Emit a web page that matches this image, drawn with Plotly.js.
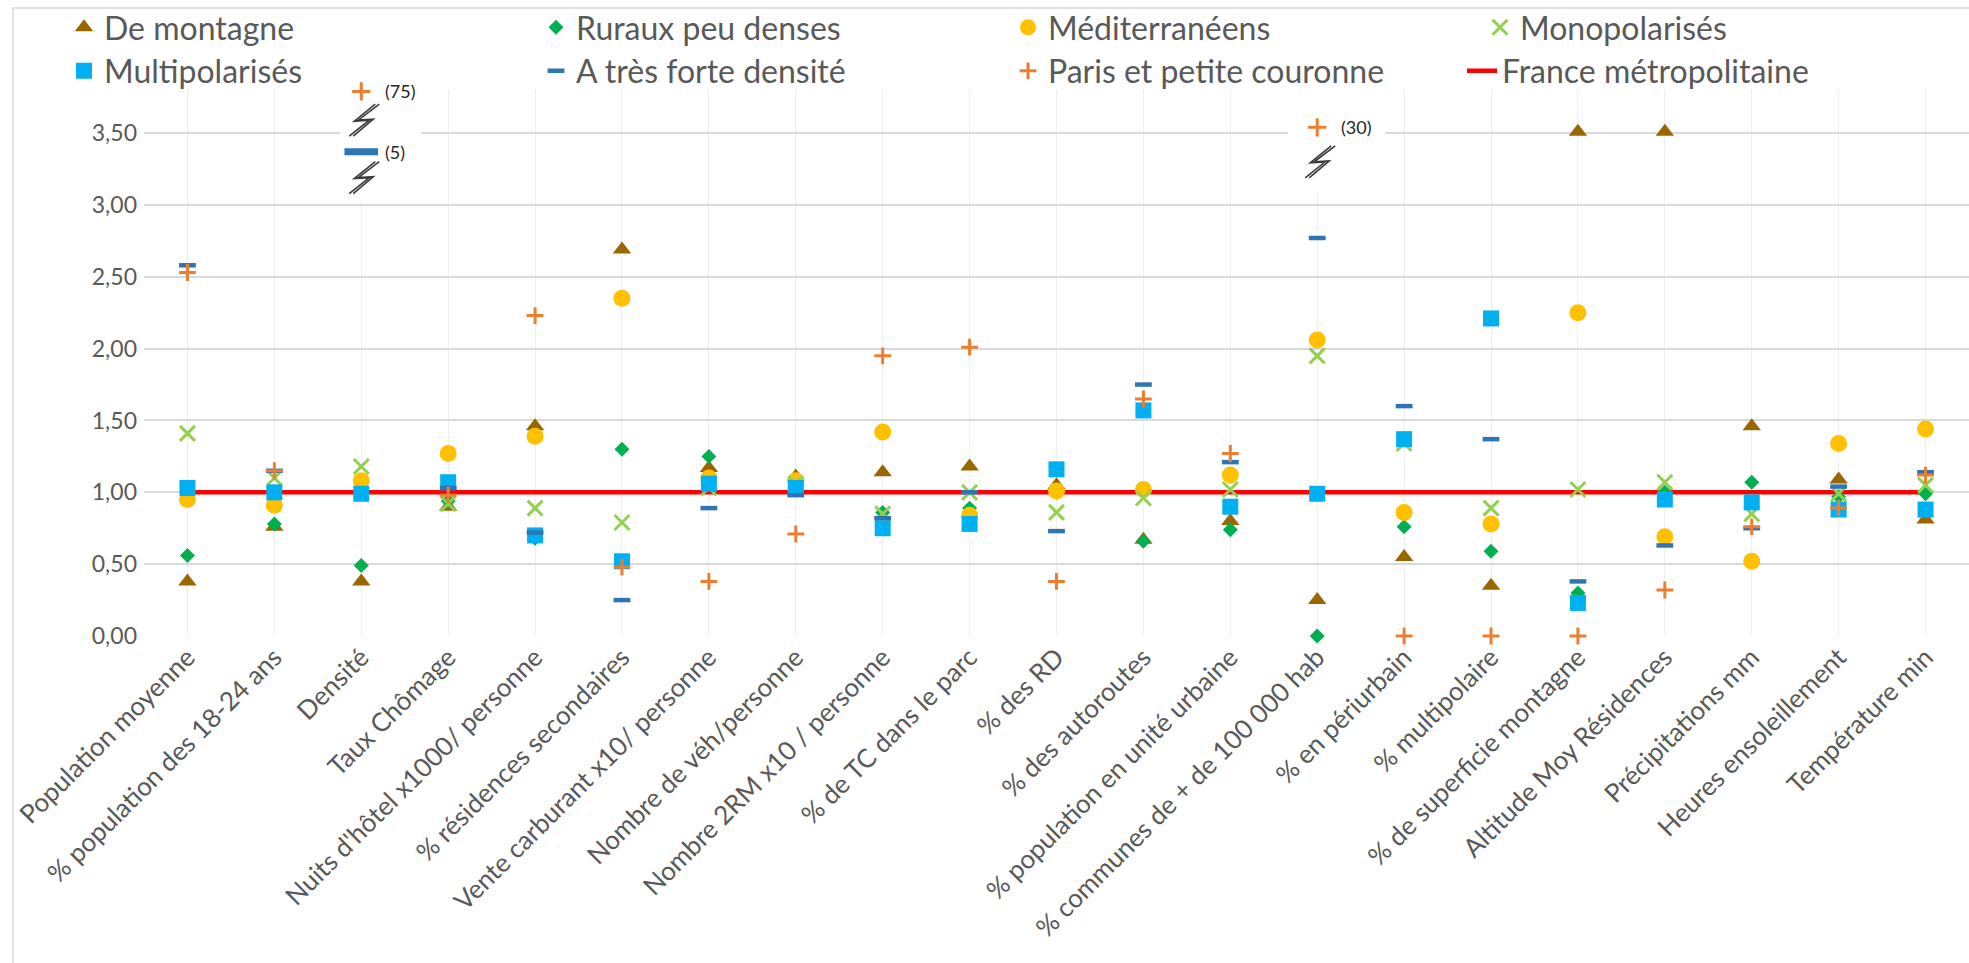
<!DOCTYPE html>
<html><head><meta charset="utf-8">
<script src="https://cdn.plot.ly/plotly-3.0.1.min.js"></script>
<style>html,body{margin:0;padding:0;background:#fff;}#chart{width:1969px;height:963px;}</style>
</head><body><div id="chart"></div>
<script>
// ---------- DATA ----------
const categories = ['Population moyenne', '% population des 18-24 ans', 'Densité', 'Taux Chômage',
  "Nuits d'hôtel x1000/ personne", '% résidences secondaires', 'Vente carburant x10/ personne',
  'Nombre de véh/personne', 'Nombre 2RM x10 / personne', '% de TC dans le parc', '% des RD',
  '% des autoroutes', '% population en unité urbaine', '% communes de + de 100 000 hab',
  '% en périurbain', '% multipolaire', '% de superficie montagne', 'Altitude Moy Résidences',
  'Précipitations mm', 'Heures ensoleillement', 'Température min'];

const deMontagne     = [0.38, 0.76, 0.38, 0.90, 1.46, 2.69, 1.17, 1.11, 1.14, 1.18, 1.05, 0.67, 0.80, 0.25, 0.55, 0.35, 3.51, 3.51, 1.46, 1.09, 0.81];
const rurauxPeuDenses= [0.56, 0.78, 0.49, 0.94, 0.68, 1.30, 1.25, 1.05, 0.86, 0.89, 1.00, 0.66, 0.74, 0.00, 0.76, 0.59, 0.30, 1.00, 1.07, 0.97, 0.99];
const mediterraneens = [0.95, 0.91, 1.08, 1.27, 1.39, 2.35, 1.10, 1.08, 1.42, 0.84, 1.01, 1.02, 1.12, 2.06, 0.86, 0.78, 2.25, 0.69, 0.52, 1.34, 1.44];
const monopolarises  = [1.41, 1.10, 1.18, 0.92, 0.89, 0.79, 1.03, 1.06, 0.85, 1.00, 0.86, 0.96, 1.02, 1.95, 1.34, 0.89, 1.02, 1.07, 0.85, 0.99, 1.05];
const multipolarises = [1.03, 1.00, 0.99, 1.07, 0.70, 0.52, 1.06, 1.03, 0.75, 0.78, 1.16, 1.57, 0.90, 0.99, 1.37, 2.21, 0.23, 0.95, 0.93, 0.88, 0.88];
const tresForteDens  = [2.58, 1.15, 5,    1.03, 0.72, 0.25, 0.89, 0.98, 0.82, 1.00, 0.73, 1.75, 1.21, 2.77, 1.60, 1.37, 0.38, 0.63, 0.75, 1.04, 1.14];
const parisCouronne  = [2.53, 1.15, 75,   0.98, 2.23, 0.48, 0.38, 0.71, 1.95, 2.01, 0.38, 1.65, 1.27, 30,   0.00, 0.00, 0.00, 0.32, 0.76, 0.89, 1.12];
const franceMetro    = [1, 1, 1, 1, 1, 1, 1, 1, 1, 1, 1, 1, 1, 1, 1, 1, 1, 1, 1, 1, 1];

const seriesNames = ['De montagne', 'Ruraux peu denses', 'Méditerranéens', 'Monopolarisés',
  'Multipolarisés', 'A très forte densité', 'Paris et petite couronne', 'France métropolitaine'];

// values beyond the axis, drawn above a break symbol
const outlierCategory = ['Densité', 'Densité', '% communes de + de 100 000 hab'];
const outlierSeries   = ['A très forte densité', 'Paris et petite couronne', 'Paris et petite couronne'];
const outlierValue    = [5, 75, 30];
const outlierShownAt  = [3.37, 3.79, 3.54];
const breakCategory   = ['Densité', 'Densité', '% communes de + de 100 000 hab'];
const breakShownAt    = [3.59, 3.19, 3.30];

// ---------- STYLE ----------
const FONT = 'Lato, "Open Sans", sans-serif';
const GREY = '#595959';
const yMax = 3.8;
const W = 1969, H = 963, ML = 144, MR = 0, MT = 90, MB = 327;
const PW = W - ML - MR, PH = H - MT - MB;
const px2x = p => (p - ML) / PW;
const py2y = p => 1 + (MT - p) / PH;

const styles = {
  'De montagne':            {symbol: 'triangle-up', size: 16, color: '#996600'},
  'Ruraux peu denses':      {symbol: 'diamond', size: 11.5, color: '#00B050'},
  'Méditerranéens':         {symbol: 'circle', size: 17, color: '#FFC000'},
  'Monopolarisés':          {symbol: 'x-thin', size: 15, color: '#92D050', lw: 3},
  'Multipolarisés':         {symbol: 'square', size: 16, color: '#00B0F0'},
  'A très forte densité':   {symbol: 'line-ew', size: 12, color: '#2E75B6', lw: 4.5},
  'Paris et petite couronne': {symbol: 'cross-thin', size: 12, color: '#ED7D31', lw: 3}
};
const seriesValues = [deMontagne, rurauxPeuDenses, mediterraneens, monopolarises, multipolarises, tresForteDens, parisCouronne];

const colX = [84, 556, 1028, 1500];
const rowY = [27, 71];

const visible = arr => arr.map(v => (v !== null && v > yMax) ? null : v);

const traces = [];
const layoutLegends = {};
function legendKey(i) { return i === 0 ? 'legend' : 'legend' + (i + 1); }
function addLegend(i, dx) {
  const col = i % 4, row = Math.floor(i / 4);
  layoutLegends[legendKey(i)] = {
    x: px2x(colX[col] - 20 + (dx || 0)), y: py2y(rowY[row]), xanchor: 'left', yanchor: 'middle',
    orientation: 'h', bgcolor: 'rgba(0,0,0,0)', borderwidth: 0,
    font: {family: FONT, size: 32, color: GREY}, itemclick: false, itemdoubleclick: false
  };
}

// France line first so markers sit on top of it
traces.push({
  type: 'scatter', mode: 'lines', x: categories, y: franceMetro, name: seriesNames[7],
  line: {color: '#FF0000', width: 4.5}, legend: legendKey(7), hoverinfo: 'skip', cliponaxis: false
});
addLegend(7, -18);

seriesValues.forEach((vals, i) => {
  const name = seriesNames[i], s = styles[name];
  const isLine = s.symbol.endsWith('-thin') || s.symbol.startsWith('line');
  traces.push({
    type: 'scatter', mode: 'markers', x: categories, y: visible(vals), name: name,
    legend: legendKey(i), cliponaxis: false, hoverinfo: 'x+y+name',
    marker: {symbol: s.symbol, size: s.size, color: s.color,
      line: isLine ? {color: s.color, width: s.lw} : {width: 0}}
  });
  addLegend(i);
});

// outlier markers
outlierValue.forEach((v, i) => {
  const s = styles[outlierSeries[i]];
  const big = outlierSeries[i] === 'A très forte densité';
  traces.push({
    type: 'scatter', mode: 'markers', x: [outlierCategory[i]], y: [outlierShownAt[i]],
    showlegend: false, cliponaxis: false, hoverinfo: 'skip',
    marker: {symbol: s.symbol, size: big ? 24 : 13, color: s.color,
      line: {color: s.color, width: big ? 7 : 3}}
  });
});

const annotations = outlierValue.map((v, i) => ({
  x: outlierCategory[i], y: outlierShownAt[i], xref: 'x', yref: 'y',
  text: '(' + v + ')', showarrow: false, xanchor: 'left', yanchor: 'middle', xshift: 22,
  font: {family: FONT, size: 18, color: '#262626'}
}));

const shapes = [];
// chart area border
shapes.push({type: 'rect', xref: 'paper', yref: 'paper', x0: px2x(13), x1: px2x(W + 10), y0: py2y(H + 20), y1: py2y(8),
  line: {color: '#d9d9d9', width: 1.5}, fillcolor: 'rgba(0,0,0,0)', layer: 'below'});
// white backgrounds behind break symbols
const boxCats = [...new Set(breakCategory)];
boxCats.forEach(c => {
  const ci = categories.indexOf(c);
  const wide = c === 'Densité';
  shapes.push({type: 'rect', xref: 'x', yref: 'y', xsizemode: 'pixel', ysizemode: 'pixel',
    xanchor: ci, yanchor: 3.5, x0: wide ? -21 : -29, x1: wide ? 60 : 68, y0: wide ? -68 : -60, y1: 52,
    fillcolor: '#ffffff', line: {width: 0}, layer: 'between'});
});
// break symbols (double zig-zag)
breakCategory.forEach((c, i) => {
  const ci = categories.indexOf(c);
  ['M 18,16 L -3,0 L 12,1 L -8,-16', 'M 14,16 L -7,-1 L 8,0 L -12,-16'].forEach(p => {
    shapes.push({type: 'path', xref: 'x', yref: 'y', xsizemode: 'pixel', ysizemode: 'pixel',
      xanchor: ci, yanchor: breakShownAt[i], path: p,
      line: {color: '#3a3a3a', width: 1.6}, layer: 'above'});
  });
});

const layout = Object.assign({
  width: W, height: H,
  margin: {l: ML, r: MR, t: MT, b: MB, pad: 0},
  paper_bgcolor: '#ffffff', plot_bgcolor: '#ffffff',
  font: {family: FONT, color: GREY},
  separators: ', ',
  showlegend: true,
  xaxis: {
    type: 'category', categoryorder: 'array', categoryarray: categories,
    range: [-0.5, categories.length - 0.5],
    showgrid: true, gridcolor: '#eeeeee', gridwidth: 1,
    showline: false, zeroline: false, ticks: '',
    tickangle: -45, tickfont: {family: FONT, size: 26, color: GREY}, fixedrange: true
  },
  yaxis: {
    range: [0, yMax], tick0: 0, dtick: 0.5, tickformat: '.2f',
    showgrid: true, gridcolor: '#d9d9d9', gridwidth: 1.5,
    zeroline: false, showline: false, ticks: '', ticklabelstandoff: 6,
    tickfont: {family: FONT, size: 23, color: GREY}, fixedrange: true
  },
  annotations: annotations,
  shapes: shapes
}, layoutLegends);

Plotly.newPlot('chart', traces, layout, {displayModeBar: false, staticPlot: false, responsive: false});
</script>
</body></html>
